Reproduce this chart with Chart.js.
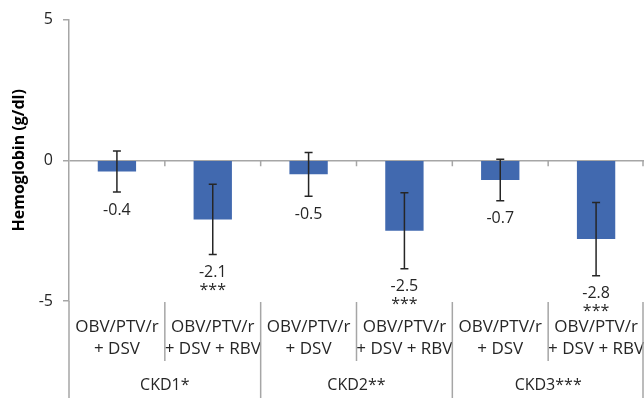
<!DOCTYPE html>
<html>
<head>
<meta charset="utf-8">
<script src="https://cdn.jsdelivr.net/npm/chart.js@4.4.1/dist/chart.umd.min.js"></script>
<style>
  html, body { margin: 0; padding: 0; background: #fff; overflow: hidden; }
</style>
</head>
<body>
<canvas id="chart" width="644" height="398"></canvas>
<script>
// data
const categories = [
	['OBV/PTV/r', '+ DSV'],
	['OBV/PTV/r', '+ DSV + RBV'],
	['OBV/PTV/r', '+ DSV'],
	['OBV/PTV/r', '+ DSV + RBV'],
	['OBV/PTV/r', '+ DSV'],
	['OBV/PTV/r', '+ DSV + RBV'],
];
const groups = ['CKD1*', 'CKD2**', 'CKD3***'];
const groupSize = 2;
const values = [-0.4, -2.1, -0.5, -2.5, -0.7, -2.8];
const errors = [0.73, 1.25, 0.78, 1.35, 0.74, 1.3];
const significance = ['', '***', '', '***', '', '***'];
const yTicks = [-5, 0, 5];

const FONT = '"Open Sans", "Noto Sans", sans-serif';
const TEXT = '#262626';
const AXIS = '#a6a6a6';
const BAR = '#4169af';

const extras = {
	id: 'extras',
	afterDatasetsDraw(chart) {
		const ctx = chart.ctx;
		const x = chart.scales.x;
		const y = chart.scales.y;
		const area = chart.chartArea;
		const meta = chart.getDatasetMeta(0);
		const H = chart.height;
		const zero = y.getPixelForValue(0);
		const half = (x.getPixelForValue(1) - x.getPixelForValue(0)) / 2;

		ctx.save();

		// error bars
		ctx.strokeStyle = '#262626';
		ctx.lineWidth = 1.5;
		meta.data.forEach((bar, i) => {
			let top = y.getPixelForValue(values[i] + errors[i]);
			let bot = y.getPixelForValue(values[i] - errors[i]);
			ctx.beginPath();
			ctx.moveTo(bar.x, top);
			ctx.lineTo(bar.x, bot);
			ctx.moveTo(bar.x - 4, top);
			ctx.lineTo(bar.x + 4, top);
			ctx.moveTo(bar.x - 4, bot);
			ctx.lineTo(bar.x + 4, bot);
			ctx.stroke();
		});

		// value labels and significance stars
		ctx.fillStyle = TEXT;
		ctx.font = '16px ' + FONT;
		ctx.textAlign = 'center';
		ctx.textBaseline = 'middle';
		meta.data.forEach((bar, i) => {
			let ly = y.getPixelForValue(values[i] - errors[i]) + 18;
			ctx.fillText(values[i].toFixed(1), bar.x, ly);
			if (significance[i]) {
				ctx.fillText(significance[i], bar.x, ly + 18);
			}
		});

		// small ticks on the zero line and label separators
		ctx.strokeStyle = AXIS;
		ctx.lineWidth = 1.5;
		categories.forEach((c, i) => {
			let bx = Math.min(x.getPixelForValue(i) + half, chart.width - 1);
			let isGroupEnd = (i + 1) % groupSize === 0;
			ctx.beginPath();
			ctx.moveTo(bx, zero);
			ctx.lineTo(bx, zero + 6);
			ctx.moveTo(bx, area.bottom + 1);
			ctx.lineTo(bx, isGroupEnd ? H : area.bottom + 60);
			ctx.stroke();
		});

		// y axis continues through the label area
		ctx.beginPath();
		ctx.moveTo(area.left, area.bottom);
		ctx.lineTo(area.left, H);
		ctx.stroke();

		// group labels
		ctx.fillStyle = TEXT;
		groups.forEach((g, k) => {
			let a = x.getPixelForValue(k * groupSize);
			let b = x.getPixelForValue(k * groupSize + groupSize - 1);
			ctx.fillText(g, (a + b) / 2, area.bottom + 84);
		});

		ctx.restore();
	},
};

new Chart(document.getElementById('chart'), {
	type: 'bar',
	data: {
		labels: categories,
		datasets: [{
			data: values,
			backgroundColor: BAR,
			borderWidth: 0,
			categoryPercentage: 1,
			barPercentage: 0.4,
		}],
	},
	options: {
		responsive: false,
		animation: false,
		layout: { padding: { top: 19, right: 0, left: 0, bottom: 0 } },
		plugins: {
			legend: { display: false },
			tooltip: { enabled: false },
		},
		scales: {
			x: {
				offset: true,
				grid: { display: false, drawTicks: false },
				border: { display: false },
				ticks: {
					autoSkip: false,
					maxRotation: 0,
					minRotation: 0,
					padding: 15,
					color: TEXT,
					font: { family: FONT, size: 17, lineHeight: 1.3 },
				},
				afterFit(scale) {
					scale.height = 97;
					scale.paddingLeft = 0;
					scale.paddingRight = 0;
				},
			},
			y: {
				min: -5,
				max: 5,
				afterBuildTicks(scale) { scale.ticks = yTicks.map(v => ({ value: v })); },
				grid: {
					color: c => (c.tick && c.tick.value === 0 ? AXIS : 'rgba(0,0,0,0)'),
					tickColor: AXIS,
					tickLength: 6,
					lineWidth: 1.5,
				},
				border: { color: AXIS, width: 1.5 },
				ticks: {
					padding: 10,
					color: TEXT,
					font: { family: FONT, size: 16 },
				},
				title: {
					display: true,
					text: 'Hemoglobin (g/dl)',
					color: '#000',
					padding: { top: 10, bottom: 0 },
					font: { family: FONT, size: 16, weight: 'bold' },
				},
				afterFit(scale) { scale.width = 69; },
			},
		},
	},
	plugins: [extras],
});
</script>
</body>
</html>
